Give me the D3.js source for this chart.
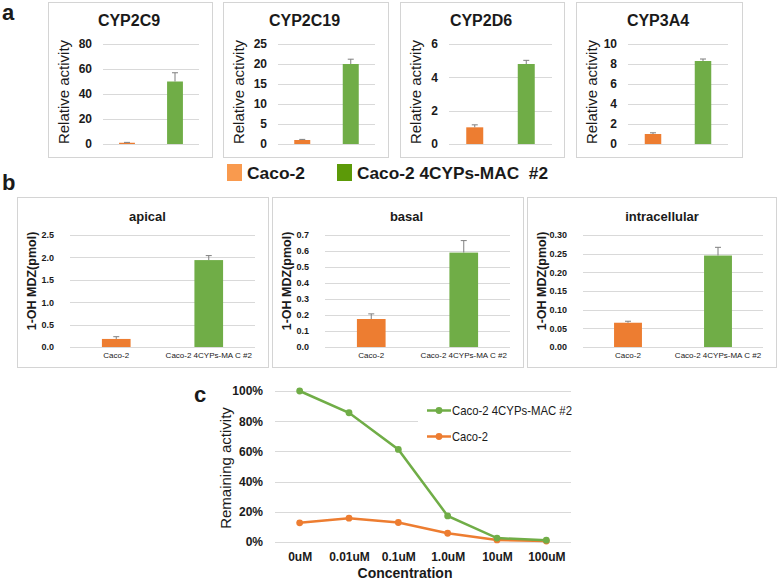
<!DOCTYPE html>
<html><head><meta charset="utf-8">
<script src="https://cdn.jsdelivr.net/npm/d3@7"></script>
<style>body{margin:0;background:#fff}svg{display:block;font-family:"Liberation Sans",Arial,sans-serif}</style>
</head><body><svg id="c" width="778" height="580"></svg>
<script>
// ---------- data ----------
const groups = ["Caco-2", "Caco-2 4CYPs-MAC #2"];
const enzymes = ["CYP2C9", "CYP2C19", "CYP2D6", "CYP3A4"];
const enzymeMeans = [[1, 50], [1, 20], [1, 4.8], [1, 8.3]];
const enzymeErrs = [[0.3, 7], [0.15, 1.2], [0.15, 0.22], [0.12, 0.2]];
const enzymeMax = [80, 25, 6, 10];
const enzymeStep = [20, 5, 2, 2];

const compartments = ["apical", "basal", "intracellular"];
const compMeans = [[0.18, 1.94], [0.175, 0.59], [0.065, 0.245]];
const compErrs = [[0.05, 0.1], [0.032, 0.075], [0.004, 0.022]];
const compMax = [2.5, 0.7, 0.30];
const compStep = [0.5, 0.1, 0.05];
const compFmt = [".1f", ".1f", ".2f"];

const concentrations = ["0uM", "0.01uM", "0.1uM", "1.0uM", "10uM", "100uM"];
const remainingMAC = [100, 85.6, 61.3, 17.3, 2.6, 1.2];
const remainingCaco = [12.7, 15.8, 12.9, 5.8, 1.4, 0.6];
const pctTicks = [0, 20, 40, 60, 80, 100];

// ---------- style ----------
const ORANGE = "#ED7D31", GREEN = "#70AD47";
const GRID = "#d9d9d9", BOX = "#d4d4d4", TXT = "#1a1a1a", ERR = "#7f7f7f";

const svg = d3.select("#c");

function barPanel(o) {
  const g = svg.append("g");
  g.append("rect").attr("x", o.bx + 0.5).attr("y", o.by + 0.5)
    .attr("width", o.bw).attr("height", o.bh)
    .attr("fill", "#fff").attr("stroke", BOX);
  const y = d3.scaleLinear().domain([0, o.max]).range([o.py1, o.py0]);
  const x = d3.scaleBand().domain(groups).range([o.px0, o.px1]).paddingInner(o.pad).paddingOuter(o.pad / 2);
  const ticks = d3.range(0, o.max + o.step / 2, o.step);
  g.selectAll(".gl").data(ticks).enter().append("line")
    .attr("x1", o.px0).attr("x2", o.px1)
    .attr("y1", d => Math.round(y(d)) + 0.5).attr("y2", d => Math.round(y(d)) + 0.5)
    .attr("stroke", GRID).attr("stroke-width", 1);
  const ax = d3.axisLeft(y).tickValues(ticks).tickSize(0).tickPadding(o.tickPad)
    .tickFormat(d3.format(o.fmt));
  const axg = g.append("g").attr("transform", `translate(${o.px0},0)`).call(ax);
  axg.select(".domain").remove();
  axg.selectAll("text").attr("font-size", o.tickFs).attr("font-weight", "bold")
    .attr("fill", TXT).attr("font-family", "Liberation Sans, Arial, sans-serif");
  // bars
  g.selectAll(".bar").data(o.values).enter().append("rect")
    .attr("x", (d, i) => x(groups[i]))
    .attr("width", x.bandwidth())
    .attr("y", d => y(d)).attr("height", d => y(0) - y(d))
    .attr("fill", (d, i) => i === 0 ? ORANGE : GREEN);
  // error bars
  o.values.forEach((v, i) => {
    const cx = x(groups[i]) + x.bandwidth() / 2;
    const top = y(v + o.errs[i]);
    g.append("line").attr("x1", cx).attr("x2", cx).attr("y1", y(v)).attr("y2", top)
      .attr("stroke", ERR).attr("stroke-width", 1);
    g.append("line").attr("x1", cx - 3).attr("x2", cx + 3).attr("y1", top).attr("y2", top)
      .attr("stroke", ERR).attr("stroke-width", 1);
  });
  // title
  g.append("text").attr("x", o.titleX).attr("y", o.titleY).attr("text-anchor", "middle")
    .attr("font-size", o.titleFs).attr("font-weight", "bold").attr("fill", TXT).text(o.title);
  // y label
  g.append("text").attr("transform", `translate(${o.ylx},${o.yly}) rotate(-90)`)
    .attr("text-anchor", "middle").attr("dominant-baseline", "central")
    .attr("font-size", o.ylFs).attr("font-weight", o.ylBold ? "bold" : "normal")
    .attr("fill", TXT).text(o.ylabel);
  // x labels
  if (o.xlabels) {
    groups.forEach(gname => {
      g.append("text").attr("x", x(gname) + x.bandwidth() / 2).attr("y", o.xlY)
        .attr("text-anchor", "middle").attr("font-size", 8).attr("fill", TXT)
        .text(gname === groups[1] ? "Caco-2 4CYPs-MA C #2" : gname);
    });
  }
}

// ---------- panel a ----------
const aBoxes = [[48, 164, 103, 199], [223, 165, 278, 375], [400, 164, 449, 552], [576, 166, 628, 728]];
enzymes.forEach((e, i) => {
  const [bx, bw, p0, p1] = aBoxes[i];
  barPanel({
    bx, by: 2, bw, bh: 155, px0: p0, px1: p1, py0: 44, py1: 144,
    max: enzymeMax[i], step: enzymeStep[i], fmt: "d", tickPad: 11, tickFs: 12,
    values: enzymeMeans[i], errs: enzymeErrs[i], pad: 0.67,
    title: e, titleX: bx + bw / 2 - 1, titleY: 26, titleFs: 16,
    ylabel: "Relative activity", ylx: bx + 15, yly: 92, ylFs: 15, ylBold: false
  });
});

// legend a
const legA = svg.append("g");
[[227, "#F99A4E", groups[0], 58], [337, "#5C9A08", "Caco-2 4CYPs-MAC\u00a0 #2", 191]].forEach(([lx, col, t, tl]) => {
  legA.append("rect").attr("x", lx).attr("y", 164).attr("width", 15).attr("height", 17).attr("fill", col);
  legA.append("text").attr("x", lx + 20).attr("y", 179).attr("font-size", 17).attr("font-weight", "bold")
    .attr("fill", TXT).attr("textLength", tl).attr("lengthAdjust", "spacingAndGlyphs").text(t);
});

// ---------- panel b ----------
const bBoxes = [[17, 251, 70, 255], [272, 251, 325, 510], [527, 249, 583, 763]];
const bTitleShift = [-15, -11, -11];
compartments.forEach((c, i) => {
  const [bx, bw, p0, p1] = bBoxes[i];
  barPanel({
    bx, by: 197, bw, bh: 170, px0: p0, px1: p1, py0: 235, py1: 347,
    max: compMax[i], step: compStep[i], fmt: compFmt[i], tickPad: 16, tickFs: 9,
    values: compMeans[i], errs: compErrs[i], pad: 0.69,
    title: c, titleX: (p0 + p1) / 2 + bTitleShift[i], titleY: 221, titleFs: 13,
    ylabel: "1-OH MDZ(pmol)", ylx: bx + 15, yly: 281, ylFs: 12.5, ylBold: true,
    xlabels: true, xlY: 358
  });
});

// ---------- panel c ----------
const cx0 = 275, cx1 = 571, cy0 = 391, cy1 = 542;
const xc = d3.scalePoint().domain(concentrations).range([cx0, cx1]).padding(0.5);
const yc = d3.scaleLinear().domain([0, 100]).range([cy1, cy0]);
const gc = svg.append("g");
gc.selectAll(".gl").data(pctTicks).enter().append("line")
  .attr("x1", cx0).attr("x2", cx1)
  .attr("y1", d => Math.round(yc(d)) + 0.5).attr("y2", d => Math.round(yc(d)) + 0.5)
  .attr("stroke", GRID);
const ayc = gc.append("g").attr("transform", `translate(${cx0},0)`)
  .call(d3.axisLeft(yc).tickValues(pctTicks).tickSize(0).tickPadding(12).tickFormat(d => d + "%"));
ayc.select(".domain").remove();
ayc.selectAll("text").attr("font-size", 12).attr("font-weight", "bold").attr("fill", TXT)
  .attr("font-family", "Liberation Sans, Arial, sans-serif");
const axc = gc.append("g").attr("transform", `translate(0,${cy1})`)
  .call(d3.axisBottom(xc).tickSize(0).tickPadding(10));
axc.select(".domain").remove();
axc.selectAll("text").attr("font-size", 12).attr("font-weight", "bold").attr("fill", TXT)
  .attr("font-family", "Liberation Sans, Arial, sans-serif");

// legend background (covers gridline)
gc.append("rect").attr("x", 418).attr("y", 400).attr("width", 153).attr("height", 46).attr("fill", "#fff");

const line = d3.line().x((d, i) => xc(concentrations[i])).y(d => yc(d));
[[remainingCaco, ORANGE], [remainingMAC, GREEN]].forEach(([vals, col]) => {
  gc.append("path").datum(vals).attr("d", line).attr("fill", "none").attr("stroke", col).attr("stroke-width", 2.5);
  gc.selectAll(null).data(vals).enter().append("circle")
    .attr("cx", (d, i) => xc(concentrations[i])).attr("cy", d => yc(d)).attr("r", 3.4).attr("fill", col);
});
[[410.5, GREEN, groups[1], 120], [436.5, ORANGE, groups[0], 36]].forEach(([ly, col, t, tl]) => {
  gc.append("line").attr("x1", 427).attr("x2", 451).attr("y1", ly).attr("y2", ly).attr("stroke", col).attr("stroke-width", 2.5);
  gc.append("circle").attr("cx", 439).attr("cy", ly).attr("r", 3.4).attr("fill", col);
  gc.append("text").attr("x", 452).attr("y", ly + 4.5).attr("font-size", 13).attr("fill", TXT)
    .attr("textLength", tl).attr("lengthAdjust", "spacingAndGlyphs").text(t);
});
gc.append("text").attr("transform", `translate(225,468) rotate(-90)`).attr("text-anchor", "middle")
  .attr("dominant-baseline", "central").attr("font-size", 15).attr("fill", TXT).text("Remaining activity");
gc.append("text").attr("x", 405).attr("y", 578).attr("text-anchor", "middle")
  .attr("font-size", 14).attr("font-weight", "bold").attr("fill", TXT).text("Concentration");

// panel letters
[["a", 2, 20], ["b", 2, 190], ["c", 194, 402]].forEach(([t, lx, ly]) => {
  svg.append("text").attr("x", lx).attr("y", ly).attr("font-size", 22).attr("font-weight", "bold")
    .attr("fill", TXT).text(t);
});
</script></body></html>
